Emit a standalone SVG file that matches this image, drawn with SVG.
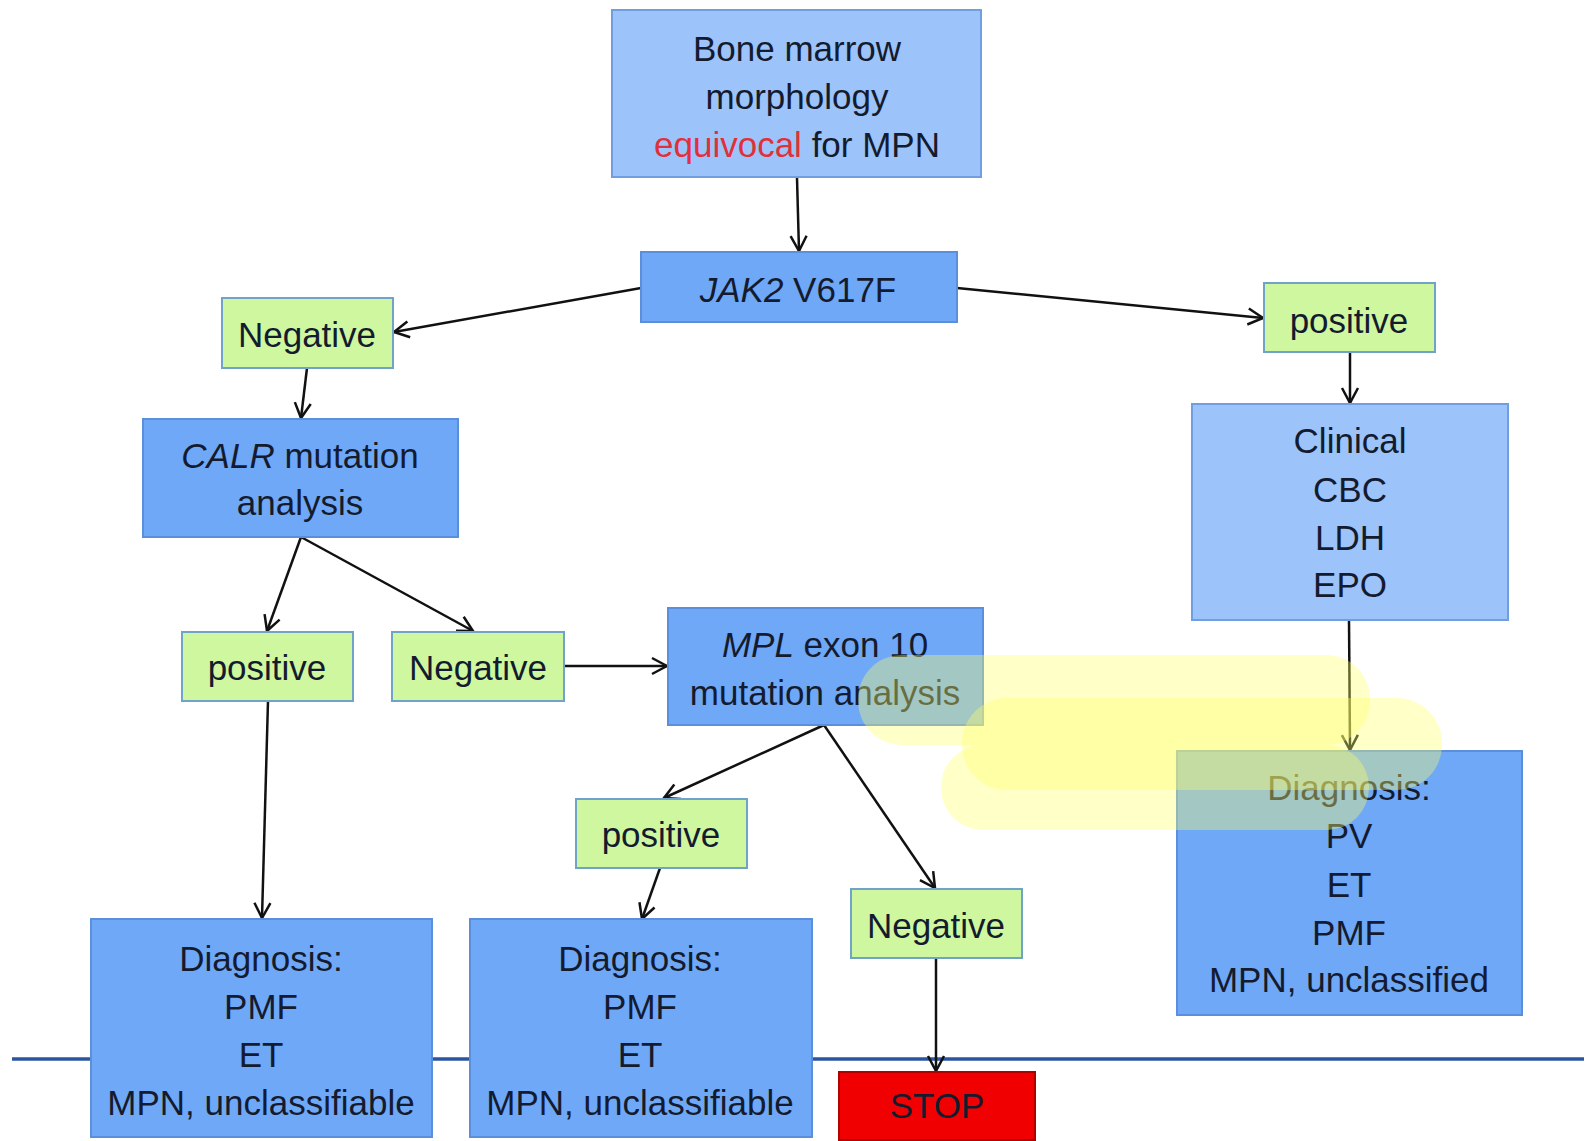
<svg xmlns="http://www.w3.org/2000/svg" width="1586" height="1141" viewBox="0 0 1586 1141">
<defs>
<style>
.t{font-family:"Liberation Sans",Arial,sans-serif;font-size:35px;fill:#141b2e;text-anchor:middle}
.blue{fill:#6fa8f7;stroke:#5b8fdc;stroke-width:2}
.lblue{fill:#9cc3fa;stroke:#6f9fe0;stroke-width:2}
.green{fill:#cff79f;stroke:#6fa3c8;stroke-width:2}
.stop{fill:#f00000;stroke:#b00000;stroke-width:2}
.c{stroke:#111;stroke-width:2.5;fill:none;marker-end:url(#ah)}
.hl{fill:#ffff66;opacity:0.36}
</style>
<marker id="ah" viewBox="0 0 20 20" refX="18" refY="10" markerWidth="20" markerHeight="20" markerUnits="userSpaceOnUse" orient="auto">
<path d="M3,2 L18,10 L3,18" fill="none" stroke="#111" stroke-width="2.5"/>
</marker>
</defs>
<rect width="1586" height="1141" fill="#ffffff"/>
<line x1="12" y1="1059" x2="1584" y2="1059" stroke="#2c55a0" stroke-width="3.5"/>
<g id="connectors">
<line class="c" x1="797" y1="178" x2="799" y2="251"/>
<line class="c" x1="641" y1="288" x2="394" y2="332"/>
<line class="c" x1="957" y1="288" x2="1263" y2="318"/>
<line class="c" x1="307" y1="368" x2="301" y2="418"/>
<line class="c" x1="1350" y1="352" x2="1350" y2="403"/>
<line class="c" x1="1349" y1="620" x2="1350" y2="750"/>
<line class="c" x1="301" y1="537" x2="267" y2="631"/>
<line class="c" x1="301" y1="537" x2="473" y2="631"/>
<line class="c" x1="268" y1="701" x2="262" y2="918"/>
<line class="c" x1="564" y1="666" x2="667" y2="666"/>
<line class="c" x1="824" y1="725" x2="664" y2="798"/>
<line class="c" x1="824" y1="725" x2="935" y2="888"/>
<line class="c" x1="660" y1="868" x2="642" y2="919"/>
<line class="c" x1="936" y1="958" x2="936" y2="1071"/>
</g>
<g id="n-bone">
<rect class="lblue" x="612" y="10" width="369" height="167"/>
<text class="t" x="797" y="61">Bone marrow</text>
<text class="t" x="797" y="109">morphology</text>
<text class="t" x="797" y="157"><tspan fill="#e0303a">equivocal</tspan> for MPN</text>
</g>
<g id="n-jak2">
<rect class="blue" x="641" y="252" width="316" height="70"/>
<text class="t" x="798" y="302"><tspan font-style="italic">JAK2</tspan> V617F</text>
</g>
<g id="n-neg1">
<rect class="green" x="222" y="298" width="171" height="70"/>
<text class="t" x="307" y="347">Negative</text>
</g>
<g id="n-pos1">
<rect class="green" x="1264" y="283" width="171" height="69"/>
<text class="t" x="1349" y="333">positive</text>
</g>
<g id="n-calr">
<rect class="blue" x="143" y="419" width="315" height="118"/>
<text class="t" x="300" y="468"><tspan font-style="italic">CALR</tspan> mutation</text>
<text class="t" x="300" y="515">analysis</text>
</g>
<g id="n-clinical">
<rect class="lblue" x="1192" y="404" width="316" height="216"/>
<text class="t" x="1350" y="453">Clinical</text>
<text class="t" x="1350" y="502">CBC</text>
<text class="t" x="1350" y="550">LDH</text>
<text class="t" x="1350" y="597">EPO</text>
</g>
<g id="n-pos2">
<rect class="green" x="182" y="632" width="171" height="69"/>
<text class="t" x="267" y="680">positive</text>
</g>
<g id="n-neg2">
<rect class="green" x="392" y="632" width="172" height="69"/>
<text class="t" x="478" y="680">Negative</text>
</g>
<g id="n-mpl">
<rect class="blue" x="668" y="608" width="315" height="117"/>
<text class="t" x="825" y="657"><tspan font-style="italic">MPL</tspan> exon 10</text>
<text class="t" x="825" y="705">mutation analysis</text>
</g>
<g id="n-pos3">
<rect class="green" x="576" y="799" width="171" height="69"/>
<text class="t" x="661" y="847">positive</text>
</g>
<g id="n-neg3">
<rect class="green" x="851" y="889" width="171" height="69"/>
<text class="t" x="936" y="938">Negative</text>
</g>
<g id="n-diag-right">
<rect class="blue" x="1177" y="751" width="345" height="264"/>
<text class="t" x="1349" y="800">Diagnosis:</text>
<text class="t" x="1349" y="848">PV</text>
<text class="t" x="1349" y="897">ET</text>
<text class="t" x="1349" y="945">PMF</text>
<text class="t" x="1349" y="992">MPN, unclassified</text>
</g>
<g id="n-diag-left">
<rect class="blue" x="91" y="919" width="341" height="218"/>
<text class="t" x="261" y="971">Diagnosis:</text>
<text class="t" x="261" y="1019">PMF</text>
<text class="t" x="261" y="1067">ET</text>
<text class="t" x="261" y="1115">MPN, unclassifiable</text>
</g>
<g id="n-diag-mid">
<rect class="blue" x="470" y="919" width="342" height="218"/>
<text class="t" x="640" y="971">Diagnosis:</text>
<text class="t" x="640" y="1019">PMF</text>
<text class="t" x="640" y="1067">ET</text>
<text class="t" x="640" y="1115">MPN, unclassifiable</text>
</g>
<g id="n-stop">
<rect class="stop" x="839" y="1072" width="196" height="68"/>
<text class="t" x="937" y="1118">STOP</text>
</g>
<g id="highlights">
<rect class="hl" x="858" y="655" width="512" height="90" rx="44"/>
<rect class="hl" x="962" y="698" width="480" height="92" rx="45"/>
<rect class="hl" x="941" y="745" width="428" height="85" rx="42"/>
</g>
</svg>
